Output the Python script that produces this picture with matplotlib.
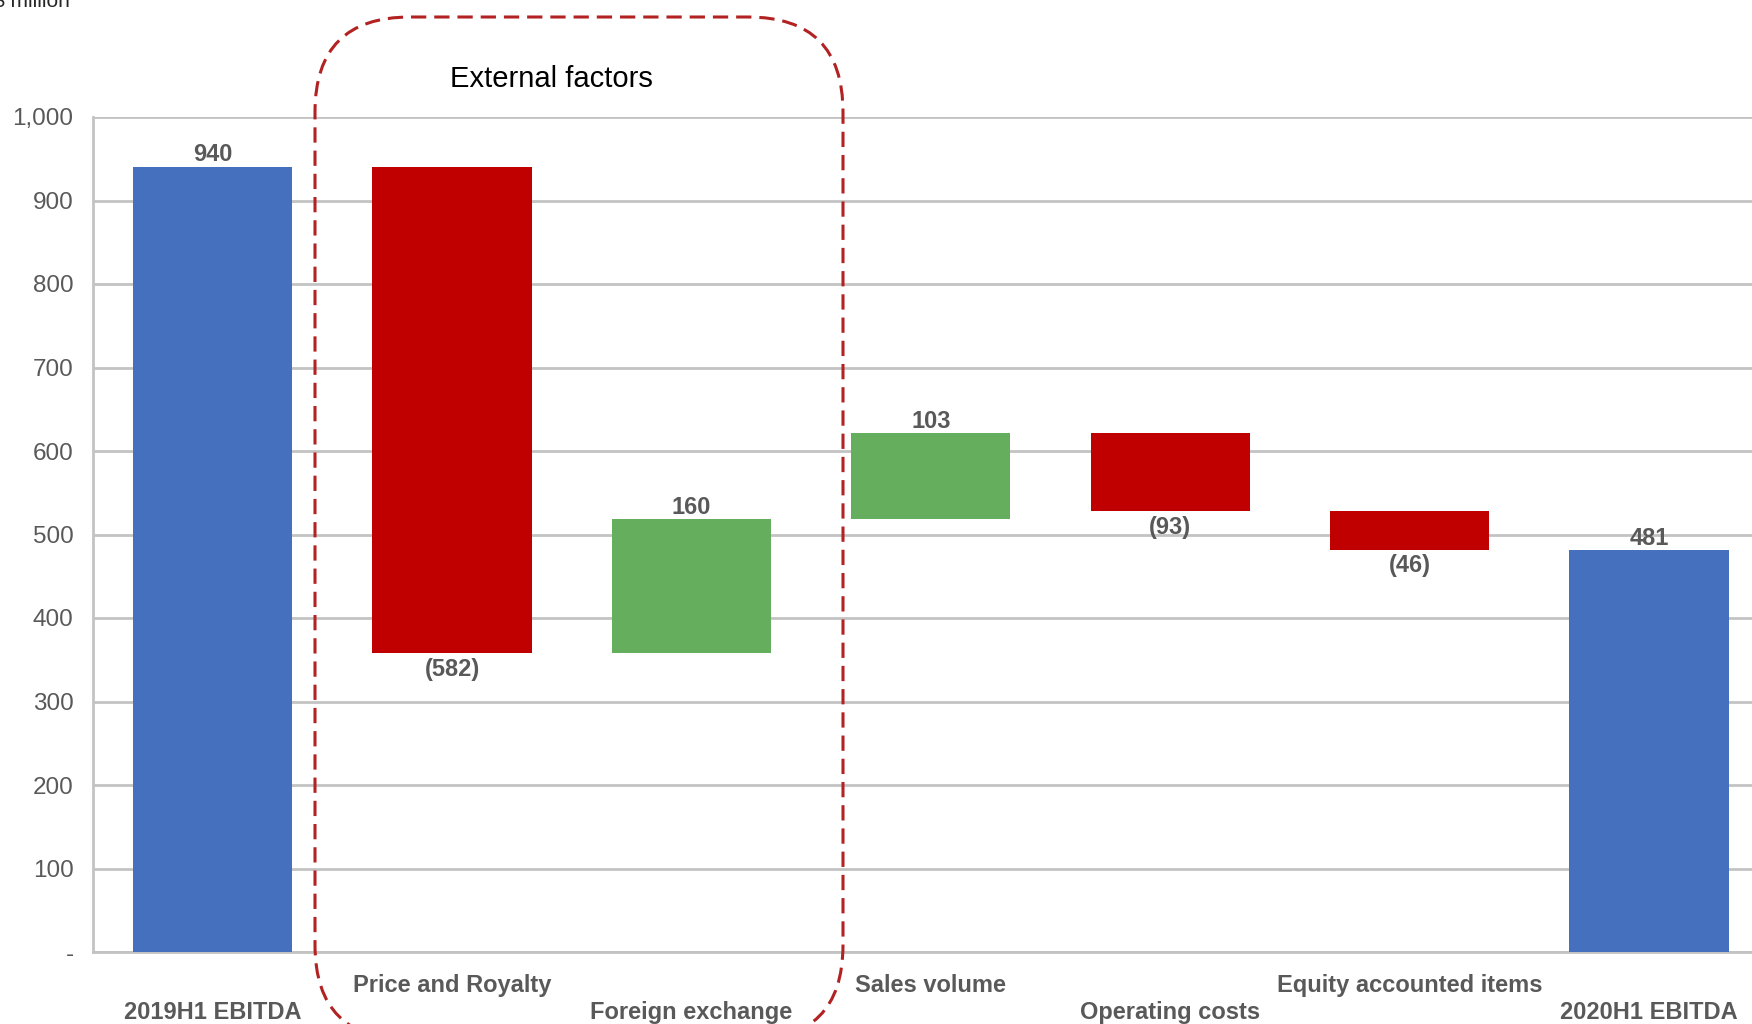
import matplotlib
matplotlib.use("Agg")
import matplotlib.pyplot as plt
from matplotlib.patches import FancyBboxPatch
from matplotlib.ticker import FuncFormatter

plt.rcParams['font.family'] = ['Liberation Sans', 'DejaVu Sans']

# EBITDA bridge, US$ million
categories = ["2019H1 EBITDA", "Price and Royalty", "Foreign exchange",
              "Sales volume", "Operating costs", "Equity accounted items",
              "2020H1 EBITDA"]
start_total = 940
changes = [-582, 160, 103, -93, -46]
end_total = 481
y_ticks = list(range(0, 1001, 100))

BLUE = "#4470BD"
RED = "#C00000"
GREEN = "#65AE5D"
GREY_TXT = "#595959"
GRID = "#C3C3C3"

W, H, DPI = 1752, 1024, 100
fig = plt.figure(figsize=(W / DPI, H / DPI), dpi=DPI)
ax = fig.add_axes([93 / W, 72 / H, 1 - 93 / W, (952 - 117) / H])

# bar geometry for the waterfall
bottoms, heights, colors, labels = [], [], [], []
bottoms.append(0); heights.append(start_total); colors.append(BLUE)
labels.append((start_total, f"{start_total:,}"))
cum = start_total
for v in changes:
    lo = min(cum, cum + v)
    bottoms.append(lo); heights.append(abs(v))
    colors.append(GREEN if v > 0 else RED)
    labels.append((v, f"{v:,}" if v > 0 else f"({-v:,})"))
    cum += v
bottoms.append(0); heights.append(end_total); colors.append(BLUE)
labels.append((end_total, f"{end_total:,}"))

x = list(range(len(categories)))
ax.bar(x, heights, bottom=bottoms, width=0.665, color=colors, zorder=3)

for xi, b, h, (v, txt) in zip(x, bottoms, heights, labels):
    if v >= 0:
        ax.annotate(txt, (xi, b + h), xytext=(0, 0.5), textcoords="offset points",
                    ha="center", va="bottom", fontsize=17, fontweight="bold",
                    color=GREY_TXT, zorder=4)
    else:
        ax.annotate(txt, (xi, b), xytext=(0, -3.5), textcoords="offset points",
                    ha="center", va="top", fontsize=17, fontweight="bold",
                    color=GREY_TXT, zorder=4)

ax.set_xlim(-0.5, 6.43)
ax.set_ylim(0, 1000)
ax.set_yticks(y_ticks)
ax.yaxis.set_major_formatter(FuncFormatter(lambda v, p: "-" if v == 0 else f"{int(v):,}"))
ax.tick_params(axis="y", length=0, pad=14, labelsize=17.5, labelcolor=GREY_TXT)
ax.grid(axis="y", color=GRID, lw=2.0, zorder=1)
ax.set_axisbelow(True)

ax.set_xticks(x, categories)
ax.tick_params(axis="x", length=0, labelsize=17, labelcolor=GREY_TXT)
for lab in ax.get_xticklabels():
    lab.set_fontweight("bold")
for i, t in enumerate(ax.xaxis.get_major_ticks()):
    t.set_pad(15.5 if i % 2 == 1 else 35.5)

for s in ["top", "right"]:
    ax.spines[s].set_visible(False)
ax.spines["left"].set_color(GRID)
ax.spines["left"].set_linewidth(2.0)
ax.spines["bottom"].set_color(GRID)
ax.spines["bottom"].set_linewidth(2.0)

# dashed rounded frame around the external factors
frame = FancyBboxPatch((3.15, -0.16), 5.28, 10.23,
                       boxstyle="round,pad=0,rounding_size=0.95",
                       transform=fig.dpi_scale_trans, fill=False,
                       edgecolor="#B22222", lw=2.2, linestyle=(0, (5, 2.6)),
                       zorder=5)
fig.add_artist(frame)
fig.text(551 / W, 1 - 79 / H, "External factors", ha="center", va="center",
         fontsize=21, color="black")

fig.text(70 / W, 1 - 6 / H, "US\\$ million", ha="right", va="baseline",
         fontsize=15, color="#262626")

fig.savefig("out.png", dpi=DPI)
